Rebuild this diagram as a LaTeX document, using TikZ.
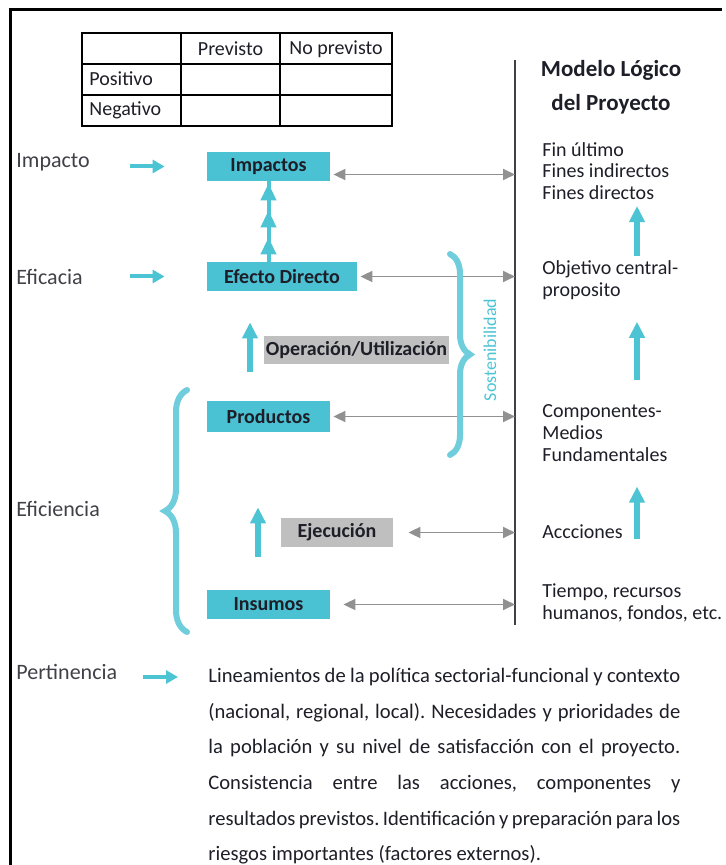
\documentclass[tikz,border=0pt]{standalone}
\usepackage{fontspec}
\setmainfont{Carlito}
\usepackage{tikz}
\usetikzlibrary{arrows.meta,positioning,decorations.pathreplacing}
\definecolor{cajaazul}{RGB}{74,194,211}
\definecolor{flechaazul}{RGB}{76,196,212}
\definecolor{llaveazul}{RGB}{112,206,220}
\definecolor{cajagris}{RGB}{191,191,191}
\definecolor{flechagris}{RGB}{145,145,145}
\definecolor{textogris}{RGB}{64,64,72}
\definecolor{textonegro}{RGB}{30,30,40}

\begin{document}
\begin{tikzpicture}[x=0.5pt,y=-0.5pt]
\tikzstyle{caja}=[fill=cajaazul, minimum height=14.5pt, minimum width=61.5pt, inner sep=1pt, font=\fontsize{10}{12}\selectfont\bfseries, text=textonegro]
\tikzstyle{cajagr}=[caja, fill=cajagris]
\tikzstyle{etiqueta}=[anchor=west, inner sep=0pt, font=\fontsize{11}{12}\selectfont, text=textogris]
\tikzstyle{modelo}=[anchor=west, align=left, inner sep=0pt, font=\fontsize{10}{10.8}\selectfont, text=textonegro]
\tikzstyle{flecha}=[draw=flechaazul, line width=2pt, -{Triangle[length=6pt,width=6.5pt]}]
\tikzstyle{flechav}=[draw=flechaazul, line width=2.75pt, -{Triangle[length=8pt,width=7.5pt]}]
\tikzstyle{flechagr}=[draw=flechagris, line width=0.9pt, {Triangle[length=6pt,width=5.5pt]}-{Triangle[length=6pt,width=5.5pt]}]
\tikzstyle{llave}=[draw=llaveazul, line width=3pt, line cap=round, decorate]
\useasboundingbox (0,0) rectangle (725,865);
\draw[line width=1.5pt] (10,865) -- (10,10) -- (722,10);

% tabla
\draw[line width=0.75pt] (82,33) rectangle (392,126);
\draw[line width=0.75pt] (82,64) -- (392,64) (82,95) -- (392,95) (181,33) -- (181,126) (280,33) -- (280,126);
\node[font=\fontsize{10}{12}\selectfont, text=textonegro] (previsto) at (230.5,49) {Previsto};
\node[font=\fontsize{10}{12}\selectfont, text=textonegro] (noprevisto) at (336,49) {No previsto};
\node[etiqueta, font=\fontsize{10}{12}\selectfont, text=textonegro] (positivo) at (89,79) {Positivo};
\node[etiqueta, font=\fontsize{10}{12}\selectfont, text=textonegro] (negativo) at (89,110) {Negativo};

% cajas
\node[caja] (impactos) at (268.5,166.5) {Impactos};
\node[caja, minimum width=75pt] (efecto) at (282,276.5) {Efecto Directo};
\node[cajagr, minimum width=91.5pt, minimum height=14pt] (operacion) at (356.5,350) {Operación/Utilización};
\node[caja, minimum height=15.5pt] (productos) at (268.5,416.5) {Productos};
\node[cajagr, minimum width=56pt] (ejecucion) at (337,532.5) {Ejecución};
\node[caja] (insumos) at (268.5,604.5) {Insumos};

% etiquetas izquierda
\node[etiqueta] (impacto) at (16,162) {Impacto};
\node[etiqueta] (eficacia) at (16,277) {Eficacia};
\node[etiqueta] (eficiencia) at (16,509) {Eficiencia};
\node[etiqueta] (pertinencia) at (16,672) {Pertinencia};
\coordinate (colflecha) at (130,0);
\draw[flecha, shorten >=21pt] (impactos.west -| colflecha) -- (impactos.west);
\draw[flecha, shorten >=21pt] (efecto.west -| colflecha) -- (efecto.west);

% modelo logico
\coordinate (ejearriba) at (515,60);
\coordinate (ejeabajo) at (515,625);
\draw[draw=textogris, line width=1pt] (ejearriba) -- (ejeabajo);
\node[font=\fontsize{11.5}{17}\selectfont\bfseries, align=center, text=textonegro] (titulo) at (611,87) {Modelo Lógico\\del Proyecto};
\node[modelo] (fines) at (542,171) {Fin último\\Fines indirectos\\Fines directos};
\node[modelo] (objetivo) at (542,280) {Objetivo central-\\proposito};
\node[modelo] (componentes) at (542,433) {Componentes-\\Medios\\Fundamentales};
\node[modelo] (acciones) at (542,532) {Accciones};
\node[modelo] (tiempo) at (542,603) {Tiempo, recursos\\humanos, fondos, etc.};
\coordinate (colderecha) at (637,0);
\draw[flechav, line width=3pt, shorten <=2pt, shorten >=3pt] (objetivo.north -| colderecha) -- (fines.south -| colderecha);
\draw[flechav, line width=3pt, shorten <=12pt, shorten >=11pt] (componentes.north -| colderecha) -- (objetivo.south -| colderecha);
\draw[flechav, line width=3pt, shorten >=12.5pt] (acciones.south -| colderecha) -- (componentes.south -| colderecha);

% flechas grises
\draw[flechagr, shorten <=1.5pt] ([yshift=-4pt]impactos.east) -- ([yshift=-4pt]impactos.east -| ejearriba);
\draw[flechagr, shorten <=1.5pt] (efecto.east) -- (efecto.east -| ejearriba);
\draw[flechagr, shorten <=1.5pt] (productos.east) -- (productos.east -| ejearriba);
\draw[flechagr, shorten <=7.5pt] (ejecucion.east) -- (ejecucion.east -| ejearriba);
\draw[flechagr, shorten <=6.5pt] (insumos.east) -- (insumos.east -| ejearriba);

% flechas verticales
\draw[draw=flechaazul, line width=2pt] (efecto.north -| impactos.south) -- (impactos.south);
\draw[draw=flechaazul, line width=2pt, -{Triangle[length=8.5pt,width=7.5pt,sep=5pt] Triangle[length=8.5pt,width=7.5pt,sep=5pt] Triangle[length=8.5pt,width=7.5pt]}] (efecto.north -| impactos.south) -- ([yshift=-1pt]impactos.south);
\coordinate (coloper) at (250,0);
\coordinate (coleje) at (258,0);
\draw[flechav, shorten <=14.5pt, shorten >=15.5pt] (productos.north -| coloper) -- (efecto.south -| coloper);
\draw[flechav, shorten <=16.5pt, shorten >=37.5pt] (insumos.north -| coleje) -- (productos.south -| coleje);

% llaves
\draw[llave, decoration={brace, amplitude=10pt}] (450,254) -- (450,455);
\node[rotate=90, text=flechaazul, font=\fontsize{9}{10}\selectfont] (sostenibilidad) at (490,350) {Sostenibilidad};
\draw[llave, decoration={brace, amplitude=11pt}] (187,632) -- (187,390);

% pertinencia
\node[anchor=north west, text width=236pt, align=justify, inner sep=0pt, font=\frenchspacing\fontsize{10.3}{17.8}\selectfont, text=textonegro] (texto) at (208,668) {Lineamientos de la política sectorial-funcional y contexto\linebreak (nacional, regional, local). Necesidades y prioridades de\linebreak la población y su nivel de satisfacción con el proyecto.\linebreak Consistencia entre las acciones, componentes y\linebreak resultados previstos. Identificación y preparación para los\linebreak riesgos importantes (factores externos).};
\draw[flecha, shorten <=12.5pt, shorten >=15pt] ([yshift=-2.5pt]pertinencia.east) -- ([yshift=-2.5pt]pertinencia.east -| texto.west);

\end{tikzpicture}
\end{document}
